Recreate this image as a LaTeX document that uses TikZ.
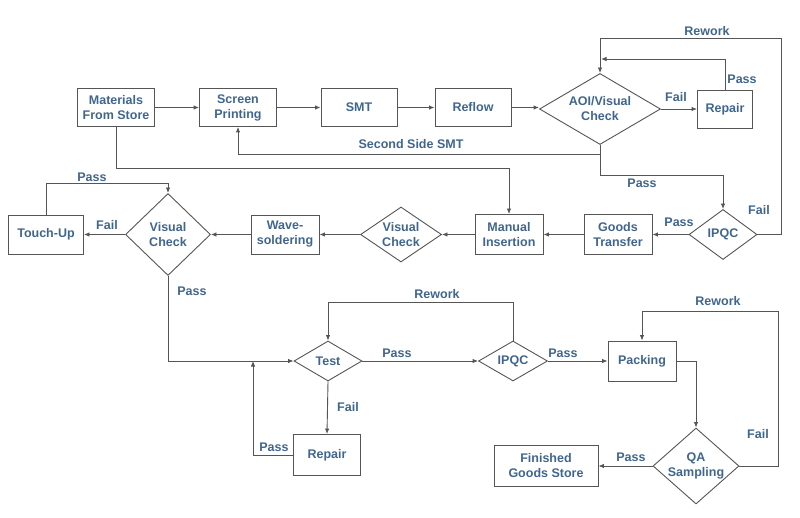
\documentclass[tikz,border=0pt]{standalone}
\usepackage{fontspec}
\setmainfont{Liberation Sans}
\usetikzlibrary{shapes.geometric,arrows.meta,calc}
\definecolor{txtc}{RGB}{64,102,142}
\definecolor{linec}{RGB}{85,85,85}
\tikzset{
  txt/.style={text=txtc,font=\fontsize{12.5}{15}\selectfont\bfseries,align=center,inner sep=0pt},
  box/.style={draw=linec,line width=0.9pt,fill=white,rectangle,inner sep=0pt,txt},
  dia/.style={draw=linec,line width=0.9pt,fill=white,diamond,inner sep=0pt},
  arr/.style={draw=linec,line width=0.9pt,-{Latex[length=5.5pt,width=4.5pt]}},
  lab/.style={txt}
}
\begin{document}
\begin{tikzpicture}[x=1pt,y=-1pt]
\useasboundingbox[fill=white] (0,0) rectangle (800,518);
% boxes
\node[box,minimum width=77pt,minimum height=38pt] (mat) at (116,107.5) {Materials\\From Store};
\node[box,minimum width=77pt,minimum height=38pt] (sp) at (238,107.5) {Screen\\Printing};
\node[box,minimum width=76pt,minimum height=38pt] (smt) at (359,107.5) {SMT};
\node[box,minimum width=76pt,minimum height=38pt] (ref) at (473,107.5) {Reflow};
\node[dia,minimum width=121pt,minimum height=71pt,label={[lab]center:AOI/Visual\\Check}] (aoi) at (600,109) {};
\node[box,minimum width=55pt,minimum height=38pt] (rep1) at (725,109) {Repair};
\node[dia,minimum width=68pt,minimum height=50pt,label={[lab]center:IPQC}] (ipqc1) at (723,234.5) {};
\node[box,minimum width=68pt,minimum height=40pt] (gt) at (618,234.5) {Goods\\Transfer};
\node[box,minimum width=68pt,minimum height=40pt] (mi) at (509,234.5) {Manual\\Insertion};
\node[dia,minimum width=81pt,minimum height=55pt,label={[lab]center:Visual\\Check}] (vc2) at (401,234.5) {};
\node[box,minimum width=68pt,minimum height=39pt] (ws) at (285,234.5) {Wave-\\soldering};
\node[dia,minimum width=85pt,minimum height=82pt,label={[lab]center:Visual\\Check}] (vc1) at (168,234.5) {};
\node[box,minimum width=75pt,minimum height=39pt] (tu) at (46,234.5) {Touch-Up};
\node[dia,minimum width=68pt,minimum height=40pt,label={[lab]center:Test}] (test) at (328,361) {};
\node[dia,minimum width=69pt,minimum height=40pt,label={[lab]center:IPQC}] (ipqc2) at (513,361) {};
\node[box,minimum width=67pt,minimum height=41pt] (rep2) at (327,455) {Repair};
\node[box,minimum width=68pt,minimum height=40pt] (pack) at (642,361) {Packing};
\node[dia,minimum width=86pt,minimum height=76pt,label={[lab]center:QA\\Sampling}] (qa) at (696,466) {};
\node[box,minimum width=104pt,minimum height=41pt] (fgs) at (546,466) {Finished\\Goods Store};
\coordinate (j1) at (253,361);
\coordinate (j2) at (601,59);
% connectors
\draw[arr] (mat.east) -- (sp.west);
\draw[arr] (sp.east) -- (smt.west);
\draw[arr] (smt.east) -- (ref.west);
\draw[arr] (ref.east) -- (ref.east -| aoi.west);
\draw[arr] (aoi.east) -- (rep1.west);
\draw[arr] (rep1.north) |- (j2);
\draw[arr] (ipqc1.east) -| (781,38) -| (aoi.north);
\draw[arr] (aoi.south) -- ++(0,9.5) -| (sp.south);
\draw[arr] (aoi.south) -- ++(0,30.5) -| (ipqc1.north);
\draw[arr] (ipqc1.west) -- (gt.east);
\draw[arr] (gt.west) -- (mi.east);
\draw[arr] (mat.south) -- ++(0,42) -| (mi.north);
\draw[arr] (mi.west) -- (vc2.east);
\draw[arr] (vc2.west) -- (ws.east);
\draw[arr] (ws.west) -- (vc1.east);
\draw[arr] (vc1.west) -- (tu.east);
\draw[arr] (tu.north) -- ++(0,-31) -| (vc1.north);
\draw[arr] (vc1.south) |- (test.west);
\draw[arr] (test.east) -- (ipqc2.west);
\draw[arr] (ipqc2.north) -- ++(0,-38) -| (test.north);
\draw[arr] (test.south) -- (rep2.north);
\draw[arr] (rep2.west) -| (j1);
\draw[arr] (ipqc2.east) -- (pack.west);
\draw[arr] (pack.east) -| (qa.north);
\draw[arr] (qa.west) -- (fgs.east);
\draw[arr] (qa.east) -| (778,311) -| (pack.north);
% labels
\node[lab] (l1) at (676,97) {Fail};
\node[lab] (l2) at (742,79) {Pass};
\node[lab] (l3) at (707,31) {Rework};
\node[lab] (l4) at (759,210) {Fail};
\node[lab] (l5) at (411,144) {Second Side SMT};
\node[lab] (l6) at (642,183) {Pass};
\node[lab] (l7) at (679,222) {Pass};
\node[lab] (l8) at (107,225) {Fail};
\node[lab] (l9) at (92,177) {Pass};
\node[lab] (l10) at (192,291) {Pass};
\node[lab] (l11) at (397,353) {Pass};
\node[lab] (l12) at (437,294) {Rework};
\node[lab] (l13) at (348,407) {Fail};
\node[lab] (l14) at (274,447) {Pass};
\node[lab] (l15) at (563,353) {Pass};
\node[lab] (l16) at (718,301) {Rework};
\node[lab] (l17) at (758,434) {Fail};
\node[lab] (l18) at (631,457) {Pass};
\end{tikzpicture}
\end{document}
